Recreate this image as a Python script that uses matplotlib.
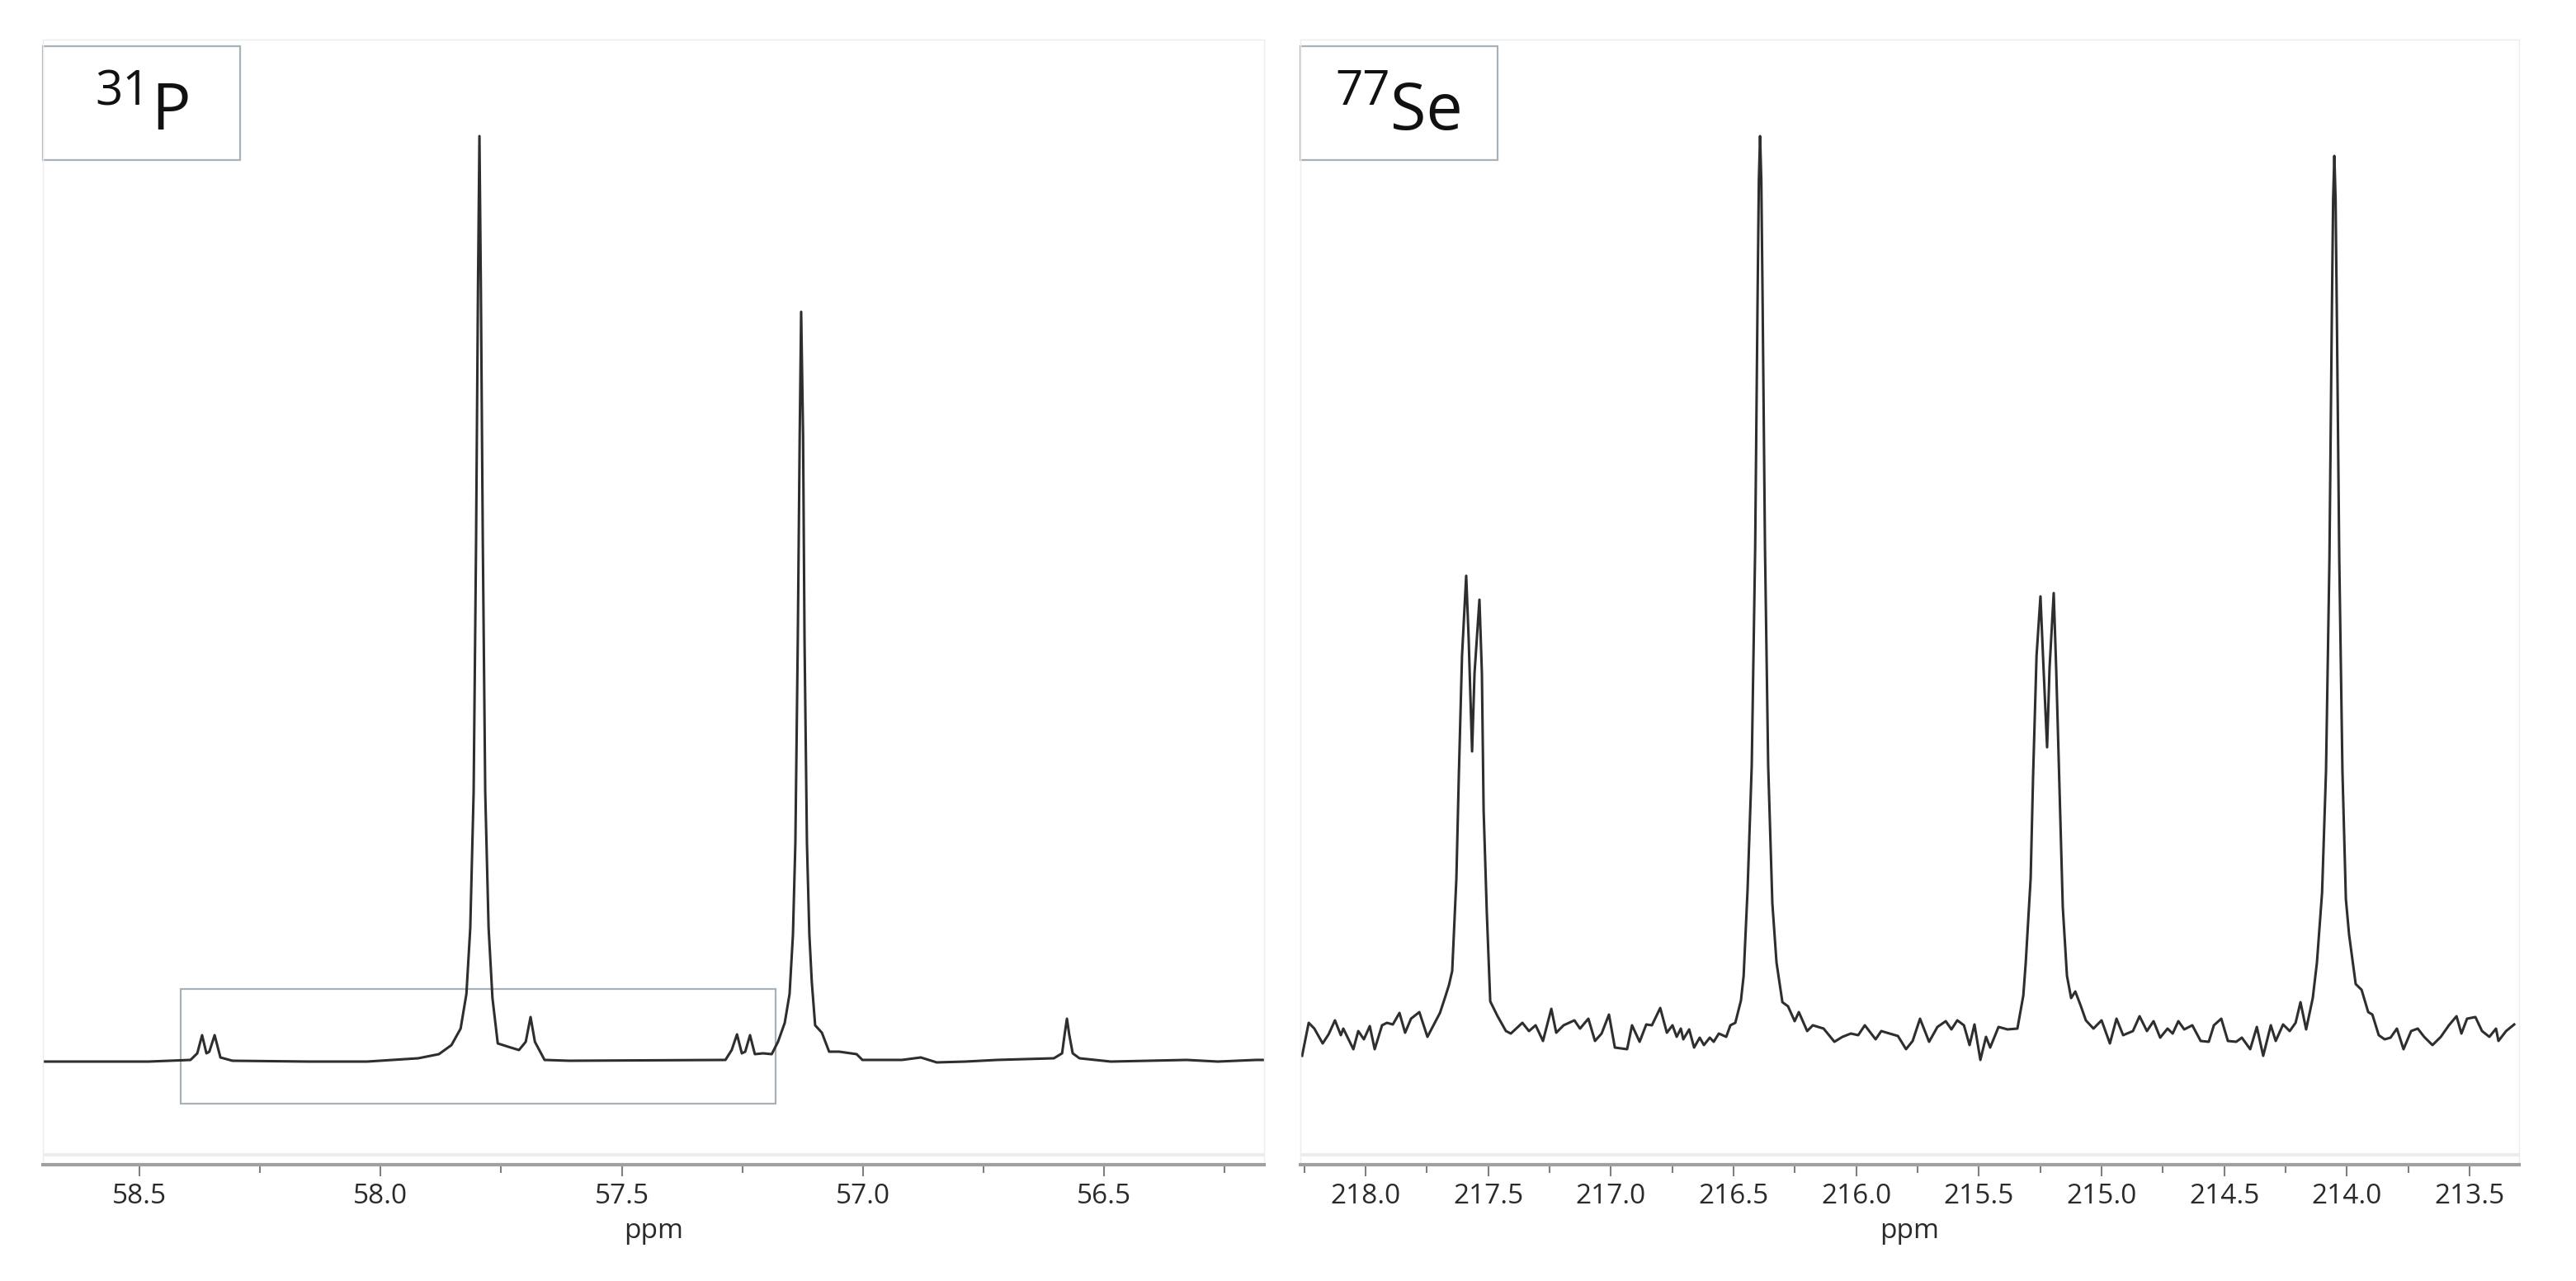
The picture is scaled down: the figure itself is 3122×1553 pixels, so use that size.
import matplotlib
matplotlib.use("Agg")
import matplotlib.pyplot as plt
from matplotlib.patches import Rectangle
from matplotlib.ticker import MultipleLocator, FormatStrFormatter

plt.rcParams['font.family'] = ['Open Sans', 'DejaVu Sans']

# 31P spectrum (ppm, intensity a.u.)
p_ppm = [58.700, 58.481, 58.394, 58.380, 58.370, 58.361, 58.355, 58.344, 58.332, 58.307,
         58.149, 58.028, 57.922, 57.879, 57.853, 57.834, 57.822, 57.814, 57.807, 57.802,
         57.798, 57.795, 57.792, 57.788, 57.783, 57.776, 57.768, 57.757, 57.730, 57.713,
         57.699, 57.689, 57.680, 57.660, 57.609, 57.285, 57.272, 57.261, 57.251, 57.244,
         57.234, 57.224, 57.207, 57.189, 57.176, 57.162, 57.152, 57.145, 57.140, 57.135,
         57.131, 57.128, 57.124, 57.121, 57.116, 57.111, 57.106, 57.099, 57.085, 57.070,
         57.049, 57.013, 57.001, 56.919, 56.880, 56.847, 56.787, 56.722, 56.604, 56.587,
         56.582, 56.577, 56.572, 56.565, 56.551, 56.486, 56.329, 56.264, 56.185, 56.168]
p_int = [-2, -2, 0, 8, 30, 8, 10, 30, 3, -1,
         -2, -2, 2, 7, 18, 38, 80, 160, 325, 627,
         935, 1120, 935, 627, 325, 160, 75, 20, 15, 12,
         22, 52, 22, 0, -1, 0, 12, 31, 8, 10,
         30, 7, 8, 7, 22, 45, 80, 152, 263, 508,
         757, 907, 757, 508, 263, 152, 95, 42, 33, 10,
         10, 7, 0, 0, 3, -3, -2, 0, 2, 8,
         30, 50, 30, 8, 2, -2, 0, -2, 0, 0]

# 77Se spectrum (ppm, intensity a.u.)
se_ppm = [218.259, 218.232, 218.209, 218.175, 218.151, 218.125, 218.101, 218.091, 218.050, 218.030,
          218.007, 217.983, 217.963, 217.933, 217.913, 217.889, 217.862, 217.839, 217.815, 217.781,
          217.748, 217.697, 217.677, 217.660, 217.647, 217.630, 217.620, 217.607, 217.590, 217.580,
          217.566, 217.556, 217.536, 217.526, 217.519, 217.506, 217.492, 217.462, 217.428, 217.408,
          217.361, 217.334, 217.307, 217.277, 217.243, 217.223, 217.193, 217.149, 217.126, 217.092,
          217.065, 217.038, 217.008, 216.984, 216.934, 216.914, 216.883, 216.856, 216.833, 216.799,
          216.772, 216.749, 216.732, 216.715, 216.705, 216.681, 216.661, 216.638, 216.621, 216.597,
          216.581, 216.560, 216.530, 216.513, 216.493, 216.470, 216.459, 216.443, 216.426, 216.412,
          216.402, 216.397, 216.392, 216.387, 216.382, 216.372, 216.359, 216.342, 216.325, 216.301,
          216.278, 216.251, 216.234, 216.200, 216.177, 216.133, 216.089, 216.056, 216.022, 215.992,
          215.965, 215.921, 215.898, 215.864, 215.830, 215.797, 215.770, 215.740, 215.703, 215.669,
          215.635, 215.612, 215.588, 215.561, 215.538, 215.518, 215.494, 215.471, 215.454, 215.420,
          215.383, 215.343, 215.319, 215.309, 215.289, 215.279, 215.265, 215.249, 215.238, 215.222,
          215.212, 215.195, 215.185, 215.171, 215.158, 215.141, 215.124, 215.107, 215.084, 215.064,
          215.033, 215.000, 214.966, 214.939, 214.912, 214.872, 214.845, 214.815, 214.788, 214.761,
          214.731, 214.710, 214.687, 214.663, 214.630, 214.596, 214.563, 214.542, 214.512, 214.485,
          214.451, 214.428, 214.394, 214.367, 214.341, 214.310, 214.290, 214.260, 214.233, 214.209,
          214.189, 214.166, 214.139, 214.122, 214.101, 214.085, 214.071, 214.061, 214.056, 214.051,
          214.046, 214.041, 214.031, 214.018, 214.004, 213.991, 213.964, 213.940, 213.913, 213.896,
          213.870, 213.846, 213.822, 213.796, 213.769, 213.738, 213.711, 213.685, 213.651, 213.617,
          213.584, 213.553, 213.533, 213.510, 213.476, 213.449, 213.419, 213.392, 213.382, 213.351,
          213.318]
se_int = [-30, 10, 3, -15, -4, 13, -5, 3, -22, 0,
          -10, 6, -22, 7, 10, 8, 22, -2, 15, 23,
          -7, 22, 40, 56, 73, 185, 310, 455, 552, 476,
          339, 434, 523, 434, 268, 144, 36, 18, 0, -3,
          10, 0, 7, -12, 27, -2, 7, 13, 3, 15,
          -12, -3, 20, -20, -22, 7, -13, 8, 7, 28,
          -2, 7, -7, 3, -10, 2, -20, -8, -17, -8,
          -13, -3, -7, 7, 10, 37, 67, 171, 322, 586,
          894, 1031, 1085, 1031, 894, 586, 322, 155, 83, 35,
          30, 12, 23, 0, 7, 3, -13, -7, -3, -5,
          7, -10, 0, -3, -6, -22, -12, 15, -13, 5,
          12, 2, 13, 7, -17, 8, -35, -7, -20, 5,
          2, 3, 43, 83, 185, 310, 455, 527, 450, 344,
          440, 531, 440, 290, 150, 67, 40, 48, 30, 13,
          3, 13, -15, 15, -5, 0, 18, 0, 12, -8,
          3, -3, 12, 2, 7, -12, -13, 7, 15, -12,
          -13, -8, -22, 5, -30, 7, -12, 8, 0, 10,
          35, 2, 40, 83, 168, 315, 573, 874, 1008, 1061,
          1008, 874, 573, 315, 160, 117, 57, 50, 23, 20,
          -5, -10, -8, 3, -22, 0, 3, -7, -17, -7,
          7, 18, -3, 15, 17, 0, -7, 3, -12, 0,
          8]

p_xlim = (58.700, 56.168)
se_xlim = (218.266, 213.298)
p_ylim = (-127, 1237)
se_ylim = (-162, 1202)
# highlight box on the 31P panel (ppm range, intensity range)
p_box_x = (58.414, 57.181)
p_box_y = (-53, 86)

line_col = '#2e2e2e'
frame_col = '#a9b1b8'
text_col = '#2a2a2a'

fig = plt.figure(figsize=(31.22, 15.53), dpi=100)
ax1 = fig.add_axes([0.01666, 0.0908, 0.4741, 0.8783])
ax2 = fig.add_axes([0.5048, 0.0908, 0.4731, 0.8783])

for ax, x, y, xl, yl, base in [(ax1, p_ppm, p_int, p_xlim, p_ylim, -115),
                              (ax2, se_ppm, se_int, se_xlim, se_ylim, -150)]:
    ax.plot(x, y, color=line_col, lw=2.2, solid_joinstyle='round')
    ax.set_xlim(*xl)
    ax.set_ylim(*yl)
    ax.axhline(base, color='#ececec', lw=3)
    ax.xaxis.set_major_locator(MultipleLocator(0.5))
    ax.xaxis.set_minor_locator(MultipleLocator(0.25))
    ax.xaxis.set_major_formatter(FormatStrFormatter('%.1f'))
    ax.set_yticks([])
    ax.tick_params(axis='x', which='major', length=10, width=1.5, color='#808080',
                   labelsize=24, labelcolor=text_col, pad=6)
    ax.tick_params(axis='x', which='minor', length=7, width=1.5, color='#808080')
    for s in ['top', 'left', 'right']:
        ax.spines[s].set_color('#ececec')
        ax.spines[s].set_linewidth(1)
    ax.spines['bottom'].set_color('#a0a0a0')
    ax.spines['bottom'].set_linewidth(3)
    ax.set_xlabel('ppm', fontsize=24, color=text_col, labelpad=6)

ax1.add_patch(Rectangle((p_box_x[0], p_box_y[0]), p_box_x[1] - p_box_x[0],
                        p_box_y[1] - p_box_y[0], fill=False, ec=frame_col, lw=1.6))

# nucleus labels in boxes
for ax in (ax1, ax2):
    ax.add_patch(Rectangle((0.0, 0.893), 0.1615, 0.1011, transform=ax.transAxes,
                           fill=False, ec=frame_col, lw=1.6, clip_on=False))
fig.text(0.03684, 0.91822, '31', fontsize=42, color='#111111', ha='left', va='baseline')
fig.text(0.05862, 0.89891, 'P', fontsize=57, color='#111111', ha='left', va='baseline')
fig.text(0.51826, 0.91822, '77', fontsize=42, color='#111111', ha='left', va='baseline')
fig.text(0.53972, 0.89891, 'Se', fontsize=57, color='#111111', ha='left', va='baseline')

fig.savefig('out.png', dpi=100, facecolor='white')
